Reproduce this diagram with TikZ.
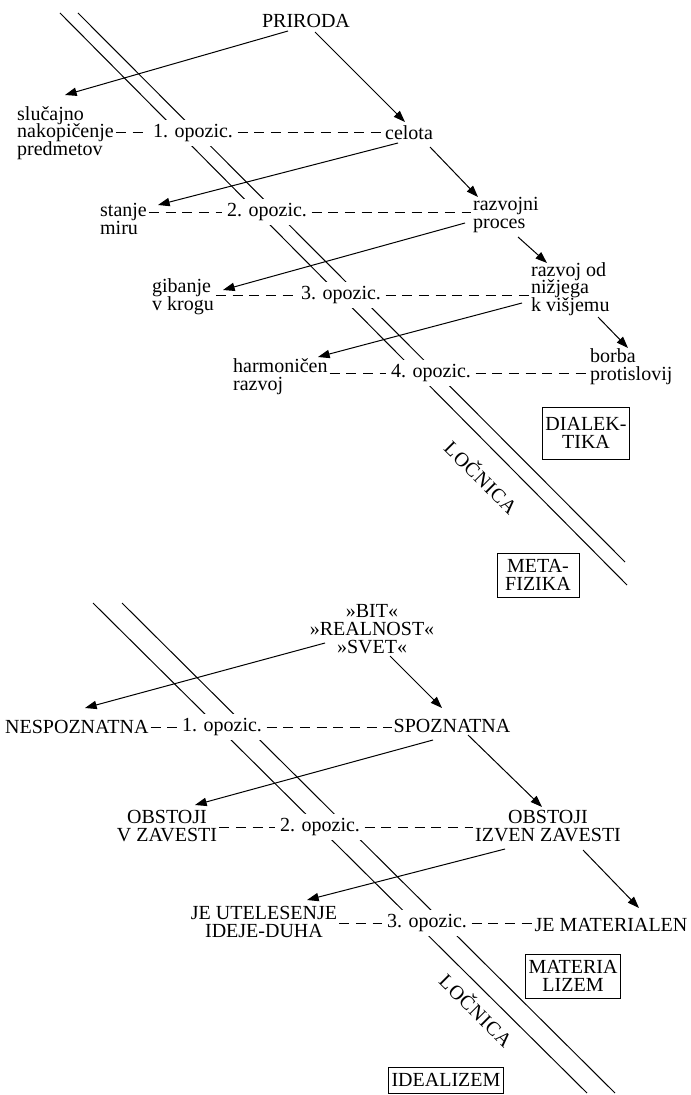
\documentclass[tikz,border=0pt]{standalone}
\usepackage{fontspec}
\setmainfont{Liberation Serif}
\usetikzlibrary{arrows.meta,calc}
\newcommand\lblfont{\fontsize{12}{10.6}\selectfont\lineskiplimit=-6pt\relax}

\begin{document}
\begin{tikzpicture}[x=0.6pt,y=-0.6pt,line width=0.6pt,
	main/.style={font=\lblfont,inner sep=1pt},
	opp/.style={main,fill=white,inner sep=2.5pt},
	boxed/.style={main,draw,line width=0.6pt,align=center,inner sep=2pt},
	spaced/.style={main,font=\lblfont\addfontfeature{LetterSpace=4},rotate=-45},
	opline/.style={dash pattern=on 6pt off 4pt},
	>={Triangle[length=7pt,width=5pt]}]
	\useasboundingbox (0,0) rectangle (690,1095);
	\draw (60,13) -- (627,585);
	\draw (78,13) -- (625,562);
	\draw (93,603) -- (587,1093);
	\draw (122,603) -- (615,1093);

	\node[main] (1) at (306,21) {PRIRODA};
	\node[main,align=left,anchor=west] (2) at (15,133) {slučajno\\nakopičenje\\predmetov};
	\node[opp] (3) at (193,133) {1. opozic.};
	\node[main] (4) at (409,133) {celota};
	\node[main,align=left,anchor=west] (5) at (98,219) {stanje\\miru};
	\node[opp] (6) at (267,212) {2. opozic.};
	\node[main,align=left,anchor=west] (7) at (471,215) {razvojni\\proces};
	\node[main,align=left,anchor=west] (8) at (150,297) {gibanje\\v krogu};
	\node[opp] (9) at (341,295) {3. opozic.};
	\node[main,align=left,anchor=west] (10) at (529,289) {razvoj od\\nižjega\\k višjemu};
	\node[main,align=left,anchor=west] (11) at (231,377) {harmoničen\\razvoj};
	\node[opp] (12) at (431,373) {4. opozic.};
	\node[main,align=left,anchor=west] (13) at (588,367) {borba\\protislovij};
	\node[boxed,minimum width=51.6pt,minimum height=31.2pt] (14) at (586,433) {DIALEK-\\TIKA};
	\node[boxed,minimum width=49.2pt,minimum height=26.4pt] (15) at (538,575) {META-\\FIZIKA};
	\node[spaced] (16) at (482,477) {LOČNICA};
	\draw[opline] (2.east |- 3.west) -- (3.west);
	\draw[opline] (3.east) -- (4.west);
	\draw[opline] (5.east |- 6.west) -- (6.west);
	\draw[opline] (6.east) -- (7.west |- 6.east);
	\draw[opline] (8.east |- 9.west) -- (9.west);
	\draw[opline] (9.east) -- (10.west |- 9.east);
	\draw[opline] (11.east |- 12.west) -- (12.west);
	\draw[opline] (12.east) -- (13.west |- 12.east);
	\draw[->] ($(1)+(-18,10)$) -- ($(2.west)+(50,-38)$);
	\draw[->] ($(1)+(9,11)$) -- ($(4)+(-4,-11)$);
	\draw[->] ($(4)+(-11,10)$) -- ($(5.west)+(60,-14)$);
	\draw[->] ($(4)+(21,14)$) -- ($(7.west)+(7,-18)$);
	\draw[->] ($(7.west)+(-6,8)$) -- ($(8.west)+(73,-7)$);
	\draw[->] ($(7.west)+(47,22)$) -- ($(10.west)+(18,-26)$);
	\draw[->] ($(10.west)+(-7,14)$) -- ($(11.west)+(87,-20)$);
	\draw[->] ($(10.west)+(69,28)$) -- ($(13.west)+(40,-19)$);

	\node[main,align=center] (21) at (372,629) {»BIT«\\»REALNOST«\\»SVET«};
	\node[main,anchor=west] (22) at (3,727) {NESPOZNATNA};
	\node[opp] (23) at (222,727) {1. opozic.};
	\node[main] (24) at (452,726) {SPOZNATNA};
	\node[main,align=center] (25) at (167,826) {OBSTOJI\\V ZAVESTI};
	\node[opp] (26) at (320,827) {2. opozic.};
	\node[main,align=center] (27) at (548,826) {OBSTOJI\\IZVEN ZAVESTI};
	\node[main,align=center] (28) at (264,922) {JE UTELESENJE\\IDEJE-DUHA};
	\node[opp] (29) at (427,923) {3. opozic.};
	\node[main] (30) at (611,925) {JE MATERIALEN};
	\node[boxed,minimum width=54.6pt,minimum height=26.4pt] (31) at (573,976) {MATERIA\\LIZEM};
	\node[boxed,minimum width=69pt,minimum height=15.6pt] (32) at (446,1080) {IDEALIZEM};
	\node[spaced] (33) at (477,1010) {LOČNICA};
	\draw[opline] (22.east) -- (23.west);
	\draw[opline] (23.east) -- (24.west |- 23.east);
	\draw[opline] (25.east |- 26.west) -- (26.west);
	\draw[opline] (26.east) -- (27.west |- 26.east);
	\draw[opline] (28.east |- 29.west) -- (29.west);
	\draw[opline] (29.east) -- (30.west |- 29.east);
	\draw[->] ($(21)+(-47,14)$) -- ($(22.west)+(82,-19)$);
	\draw[->] ($(21)+(18,27)$) -- ($(24)+(-10,-18)$);
	\draw[->] ($(24)+(-19,14)$) -- ($(25)+(28,-21)$);
	\draw[->] ($(24)+(16,9)$) -- ($(27)+(-6,-19)$);
	\draw[->] ($(27)+(-43,23)$) -- ($(28)+(43,-22)$);
	\draw[->] ($(27)+(35,24)$) -- ($(30)+(28,-17)$);
\end{tikzpicture}
\end{document}
